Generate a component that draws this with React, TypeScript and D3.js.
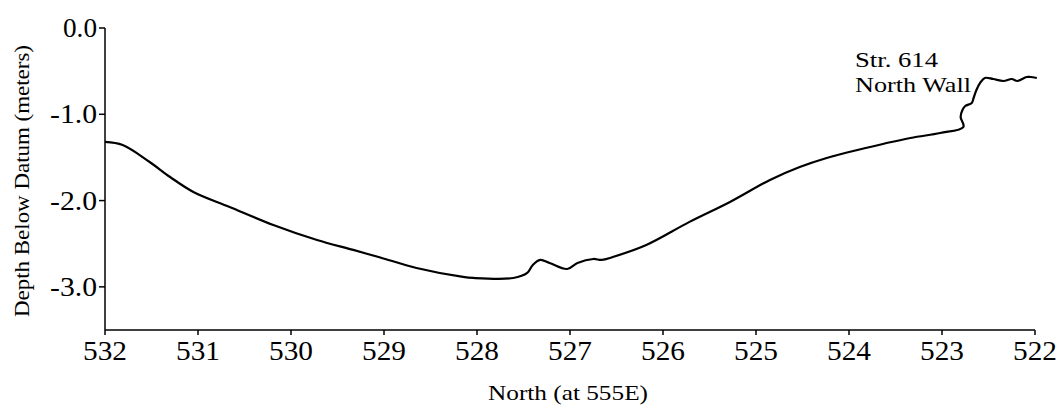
import React from "react";
import * as d3 from "d3";

const northing = [
  532.0, 531.81, 531.52, 531.3, 531.05, 530.66, 530.19, 529.72, 529.33, 529.04,
  528.65, 528.15, 528.04, 527.61, 527.46, 527.4, 527.32, 527.22, 527.03, 526.92,
  526.75, 526.66, 526.54, 526.18, 525.72, 525.28, 524.85, 524.53, 524.24, 523.91,
  523.34, 523.02, 522.77, 522.8, 522.78, 522.75, 522.68, 522.66, 522.63, 522.59,
  522.54, 522.45, 522.34, 522.25, 522.19, 522.09, 522.05, 521.98,
];
const depth = [
  -1.32, -1.356, -1.553, -1.727, -1.9, -2.074, -2.283, -2.457, -2.572, -2.66,
  -2.781, -2.885, -2.897, -2.897, -2.839, -2.746, -2.688, -2.723, -2.793, -2.723,
  -2.677, -2.688, -2.654, -2.515, -2.25, -2.016, -1.761, -1.611, -1.506, -1.414,
  -1.275, -1.217, -1.147, -1.031, -0.95, -0.904, -0.869, -0.811, -0.718, -0.637,
  -0.579, -0.591, -0.614, -0.591, -0.614, -0.568, -0.568, -0.579,
];
const xTicks = [532, 531, 530, 529, 528, 527, 526, 525, 524, 523, 522];
const yTicks = [0, -1, -2, -3];
const yTickLabels = ["0.0", "-1.0", "-2.0", "-3.0"];
const xTitle = "North (at 555E)";
const yTitle = "Depth Below Datum (meters)";
const noteLines = ["Str. 614", "North Wall"];

export default function App() {
  const x = d3.scaleLinear().domain([532, 522]).range([105, 1035]);
  const y = d3.scaleLinear().domain([0, -3.5]).range([28, 330]);
  const pts = northing.map((n, i) => [n, depth[i]] as [number, number]);
  const line = d3
    .line<[number, number]>()
    .x((d) => x(d[0]))
    .y((d) => y(d[1]))
    .curve(d3.curveCatmullRom.alpha(0.5));
  const font = "'Liberation Serif', 'Times New Roman', serif";
  const x0 = x(532);
  const yBottom = y(-3.5);
  return (
    <svg
      width={1061}
      height={410}
      style={{ position: "absolute", left: 0, top: 0, background: "#fff" }}
      fontFamily={font}
    >
      <rect width={1061} height={410} fill="#fff" />
      <line x1={x0} x2={x0} y1={y(0)} y2={yBottom} stroke="#000" strokeWidth={1.5} />
      <line x1={x0} x2={x(522)} y1={yBottom} y2={yBottom} stroke="#000" strokeWidth={1.5} />
      {yTicks.map((t, i) => (
        <g key={"y" + t}>
          <line x1={x0 - 6} x2={x0} y1={y(t)} y2={y(t)} stroke="#000" strokeWidth={1.5} />
          <text
            x={97}
            y={y(t) + 9}
            fontSize={27}
            textAnchor="end"
            textLength={i === 0 ? 34 : 47}
            lengthAdjust="spacingAndGlyphs"
          >
            {yTickLabels[i]}
          </text>
        </g>
      ))}
      {xTicks.map((t) => (
        <g key={"x" + t}>
          <line x1={x(t)} x2={x(t)} y1={yBottom} y2={yBottom + 5} stroke="#000" strokeWidth={1.5} />
          <text
            x={x(t)}
            y={360}
            fontSize={27}
            textAnchor="middle"
            textLength={44}
            lengthAdjust="spacingAndGlyphs"
          >
            {t}
          </text>
        </g>
      ))}
      <text
        x={568}
        y={400}
        fontSize={21}
        textAnchor="middle"
        textLength={160}
        lengthAdjust="spacingAndGlyphs"
      >
        {xTitle}
      </text>
      <text
        transform={`translate(29,181) rotate(-90)`}
        fontSize={22}
        textAnchor="middle"
        textLength={272}
        lengthAdjust="spacingAndGlyphs"
      >
        {yTitle}
      </text>
      <text x={855} y={67} fontSize={22} textLength={83} lengthAdjust="spacingAndGlyphs">
        {noteLines[0]}
      </text>
      <text x={855} y={92} fontSize={22} textLength={116} lengthAdjust="spacingAndGlyphs">
        {noteLines[1]}
      </text>
      <path d={line(pts) || ""} fill="none" stroke="#000" strokeWidth={2.2} strokeLinejoin="round" />
    </svg>
  );
}
